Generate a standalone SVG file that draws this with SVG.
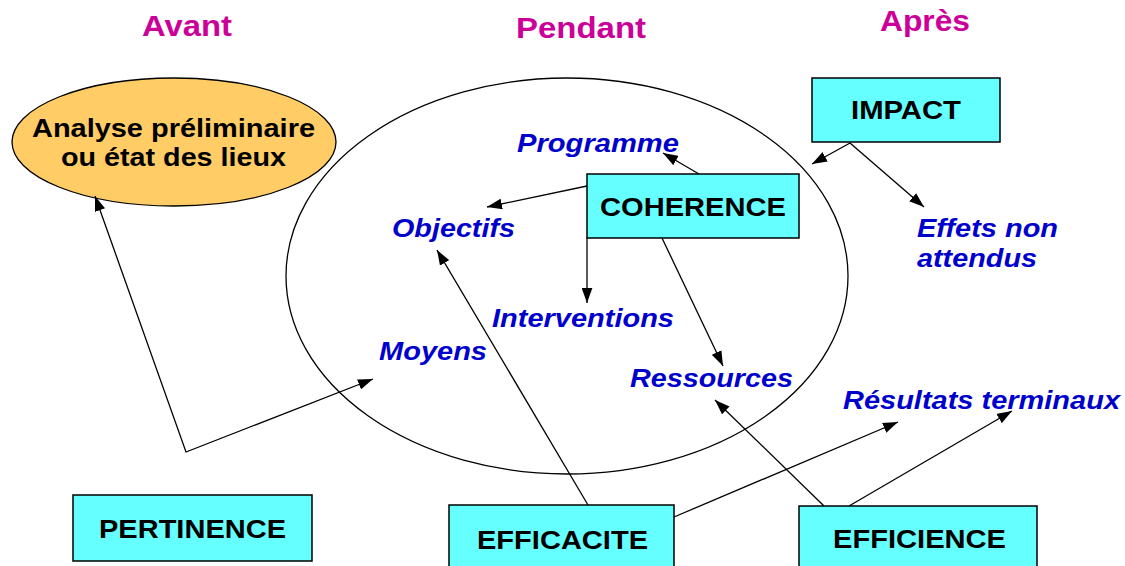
<svg xmlns="http://www.w3.org/2000/svg" width="1125" height="566" viewBox="0 0 1125 566">
<defs>
<marker id="ah" viewBox="0 0 14 10" refX="14" refY="5" markerWidth="15" markerHeight="11" markerUnits="userSpaceOnUse" orient="auto-start-reverse">
<path d="M0,0 L14,5 L0,10 Z" fill="#000"/>
</marker>
<style>
.title{font-family:"Liberation Sans",Arial,sans-serif;font-weight:bold;font-size:29px;fill:#CC0099}
.box{fill:#66FFFF;stroke:#000;stroke-width:1.5}
.bt{font-family:"Liberation Sans",Arial,sans-serif;font-weight:bold;font-size:25px;fill:#000}
.lbl{font-family:"Liberation Sans",Arial,sans-serif;font-weight:bold;font-style:italic;font-size:25px;fill:#0000CC}
.con{fill:none;stroke:#000;stroke-width:1.3;marker-end:url(#ah)}
</style>
</defs>
<rect width="1125" height="566" fill="#fff"/>
<g id="titles">
<text class="title" x="142" y="36" textLength="90" lengthAdjust="spacingAndGlyphs">Avant</text>
<text class="title" x="516" y="38" textLength="130" lengthAdjust="spacingAndGlyphs">Pendant</text>
<text class="title" x="880" y="31" textLength="90" lengthAdjust="spacingAndGlyphs">Après</text>
</g>
<g id="pendant-ellipse">
<ellipse cx="567" cy="276" rx="281" ry="198" fill="none" stroke="#000" stroke-width="1.3"/>
</g>
<g id="analyse">
<ellipse cx="174" cy="142" rx="162" ry="64" fill="#FFCC66" stroke="#000" stroke-width="1.3"/>
<text class="bt" x="32" y="137" textLength="283" lengthAdjust="spacingAndGlyphs">Analyse préliminaire</text>
<text class="bt" x="61" y="166" textLength="225" lengthAdjust="spacingAndGlyphs">ou état des lieux</text>
</g>
<g id="connectors">
<line class="con" x1="699" y1="174" x2="663" y2="153"/>
<line class="con" x1="587" y1="186" x2="487" y2="207"/>
<line class="con" x1="587" y1="238" x2="587" y2="303"/>
<line class="con" x1="662" y1="238" x2="723" y2="366"/>
<line class="con" x1="850" y1="143" x2="812" y2="164"/>
<line class="con" x1="850" y1="143" x2="924" y2="207"/>
<line class="con" x1="588" y1="505" x2="437" y2="250"/>
<line class="con" x1="674" y1="517" x2="898" y2="422"/>
<line class="con" x1="824" y1="506" x2="715" y2="400"/>
<line class="con" x1="849" y1="506" x2="1012" y2="411"/>
<polyline class="con" points="95,196 186,452 373,379" style="marker-start:url(#ah)"/>
</g>
<g id="coherence">
<rect class="box" x="587" y="174" width="212" height="64"/>
<text class="bt" x="600" y="216" textLength="186" lengthAdjust="spacingAndGlyphs">COHERENCE</text>
</g>
<g id="impact">
<rect class="box" x="812" y="78" width="188" height="64"/>
<text class="bt" x="851" y="119" textLength="110" lengthAdjust="spacingAndGlyphs">IMPACT</text>
</g>
<g id="pertinence">
<rect class="box" x="73" y="495" width="239" height="66"/>
<text class="bt" x="99" y="538" textLength="187" lengthAdjust="spacingAndGlyphs">PERTINENCE</text>
</g>
<g id="efficacite">
<rect class="box" x="449" y="505" width="225" height="70"/>
<text class="bt" x="477" y="549" textLength="171" lengthAdjust="spacingAndGlyphs">EFFICACITE</text>
</g>
<g id="efficience">
<rect class="box" x="799" y="506" width="238" height="70"/>
<text class="bt" x="833" y="548" textLength="173" lengthAdjust="spacingAndGlyphs">EFFICIENCE</text>
</g>
<g id="labels">
<text class="lbl" x="517" y="152" textLength="162" lengthAdjust="spacingAndGlyphs">Programme</text>
<text class="lbl" x="392" y="237" textLength="123" lengthAdjust="spacingAndGlyphs">Objectifs</text>
<text class="lbl" x="492" y="327" textLength="182" lengthAdjust="spacingAndGlyphs">Interventions</text>
<text class="lbl" x="379" y="360" textLength="108" lengthAdjust="spacingAndGlyphs">Moyens</text>
<text class="lbl" x="630" y="387" textLength="163" lengthAdjust="spacingAndGlyphs">Ressources</text>
<text class="lbl" x="843" y="409" textLength="277" lengthAdjust="spacingAndGlyphs">Résultats terminaux</text>
<text class="lbl" x="917" y="237" textLength="141" lengthAdjust="spacingAndGlyphs">Effets non</text>
<text class="lbl" x="917" y="267" textLength="120" lengthAdjust="spacingAndGlyphs">attendus</text>
</g>
</svg>
